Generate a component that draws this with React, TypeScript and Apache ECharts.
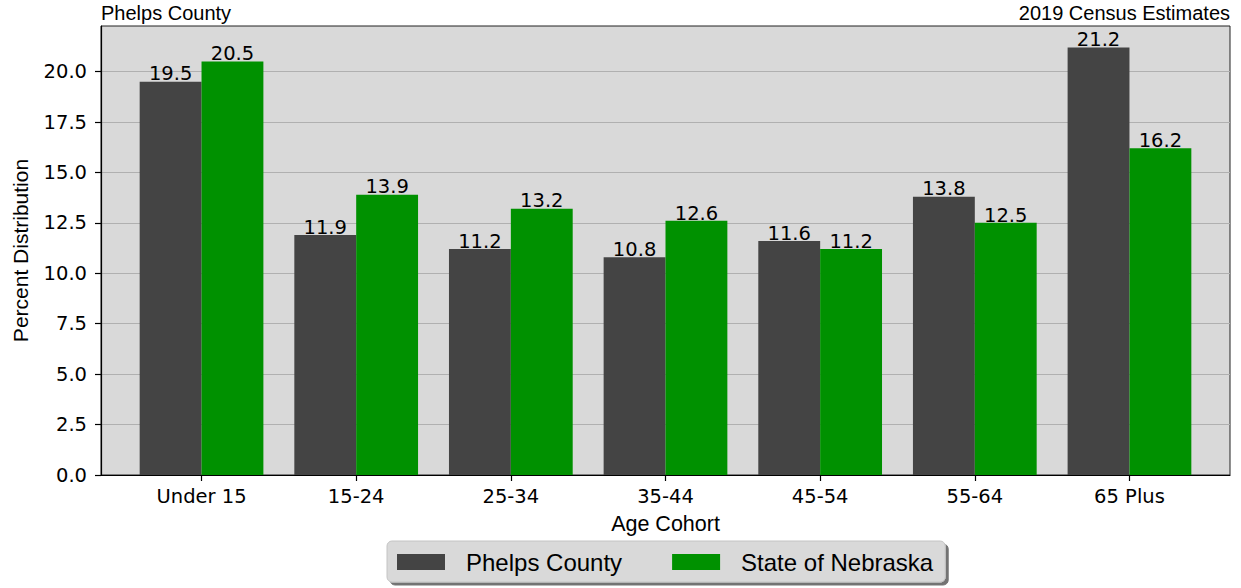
import React, { useEffect, useRef } from "react";
import * as echarts from "echarts";

const categories = ["Under 15", "15-24", "25-34", "35-44", "45-54", "55-64", "65 Plus"];
const phelpsCounty = [19.5, 11.9, 11.2, 10.8, 11.6, 13.8, 21.2];
const stateOfNebraska = [20.5, 13.9, 13.2, 12.6, 11.2, 12.5, 16.2];
const yTicks = [0, 2.5, 5, 7.5, 10, 12.5, 15, 17.5, 20];
const seriesNames = ["Phelps County", "State of Nebraska"];
const titleLeft = "Phelps County";
const titleRight = "2019 Census Estimates";
const xName = "Age Cohort";
const yName = "Percent Distribution";

const W = 1241;
const H = 588;
const GRID = { left: 101, top: 26, right: 11, bottom: 113 };
const X_MIN = -0.65;
const X_MAX = 6.65;
const Y_MAX = 22.26;
const BAR_UNITS = 0.4;

export default function App() {
  const ref = useRef<HTMLDivElement>(null);
  useEffect(() => {
    if (!ref.current) return;
    const chart = echarts.init(ref.current, undefined, { renderer: "svg" });
    const plotW = W - GRID.left - GRID.right;
    const barW = (plotW / (X_MAX - X_MIN)) * BAR_UNITS;
    const tickFont = "DejaVu Sans";
    const textFont = "Liberation Sans";
    const catIdx = categories.map((_, i) => i);
    const labelCfg = {
      show: true,
      position: "top",
      distance: -2,
      color: "#000",
      fontFamily: tickFont,
      fontSize: 19.5,
      lineHeight: 19.5,
      formatter: (p: any) => Number(p.value[1]).toFixed(1),
    };
    chart.setOption({
      animation: false,
      backgroundColor: "#ffffff",
      title: [
        {
          text: titleLeft,
          left: GRID.left,
          top: 3,
          padding: 0,
          textStyle: { fontFamily: textFont, fontSize: 20, fontWeight: "normal", color: "#000" },
        },
        {
          text: titleRight,
          right: GRID.right,
          top: 3,
          padding: 0,
          textStyle: { fontFamily: textFont, fontSize: 20, fontWeight: "normal", color: "#000" },
        },
      ],
      legend: {
        left: 387,
        top: 541,
        orient: "horizontal",
        data: seriesNames,
        icon: "rect",
        itemWidth: 48,
        itemHeight: 16,
        itemGap: 50,
        padding: [9, 12, 8, 10],
        backgroundColor: "#d9d9d9",
        borderColor: "#c4c4c4",
        borderWidth: 1,
        borderRadius: 5,
        shadowColor: "rgba(0,0,0,0.55)",
        shadowOffsetX: 3,
        shadowOffsetY: 3,
        shadowBlur: 0,
        textStyle: {
          fontFamily: textFont,
          fontSize: 24,
          color: "#000",
          padding: [0, 0, 0, 16],
          lineHeight: 24,
        },
      },
      grid: {
        left: GRID.left,
        top: GRID.top,
        right: GRID.right,
        bottom: GRID.bottom,
        show: true,
        backgroundColor: "#d9d9d9",
        borderColor: "#222",
        borderWidth: 1,
      },
      xAxis: {
        type: "value",
        min: X_MIN,
        max: X_MAX,
        name: xName,
        nameLocation: "middle",
        nameGap: 38,
        nameTextStyle: { fontFamily: textFont, fontSize: 21.5, color: "#000" },
        splitLine: { show: false },
        axisLine: { show: true, onZero: false, lineStyle: { color: "#000", width: 1.2 } },
        axisTick: { show: true, customValues: catIdx, length: 6, lineStyle: { color: "#000", width: 1.2 } },
        axisLabel: {
          customValues: catIdx,
          formatter: (v: number) => categories[Math.round(v)] ?? "",
          fontFamily: tickFont,
          fontSize: 19.5,
          color: "#000",
          margin: 11,
        },
      },
      yAxis: {
        type: "value",
        min: 0,
        max: Y_MAX,
        interval: 2.5,
        name: yName,
        nameLocation: "middle",
        nameGap: 70,
        nameTextStyle: { fontFamily: textFont, fontSize: 21, color: "#000" },
        splitLine: { show: true, lineStyle: { color: "#b0b0b0", width: 1.2 } },
        axisLine: { show: true, onZero: false, lineStyle: { color: "#000", width: 1.2 } },
        axisTick: { show: true, customValues: yTicks, length: 6, lineStyle: { color: "#000", width: 1.2 } },
        axisLabel: {
          customValues: yTicks,
          formatter: (v: number) => v.toFixed(1),
          fontFamily: tickFont,
          fontSize: 19.5,
          color: "#000",
          margin: 14,
        },
      },
      series: [
        {
          name: seriesNames[0],
          type: "bar",
          barWidth: barW,
          barGap: "-100%",
          itemStyle: { color: "#444444" },
          label: labelCfg,
          data: phelpsCounty.map((v, i) => [i - BAR_UNITS / 2, v]),
        },
        {
          name: seriesNames[1],
          type: "bar",
          barWidth: barW,
          barGap: "-100%",
          itemStyle: { color: "#009100" },
          label: labelCfg,
          data: stateOfNebraska.map((v, i) => [i + BAR_UNITS / 2, v]),
        },
      ],
    });
    return () => chart.dispose();
  }, []);
  return (
    <div
      ref={ref}
      style={{ position: "fixed", left: 0, top: 0, width: W, height: H }}
    />
  );
}
